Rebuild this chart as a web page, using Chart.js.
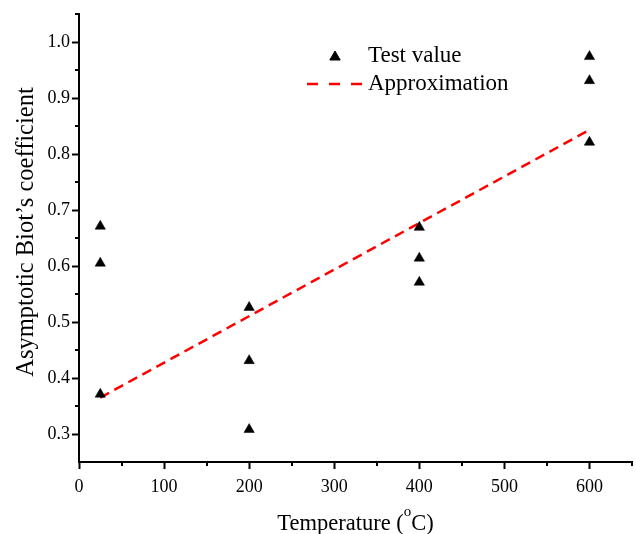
<!DOCTYPE html>
<html>
<head>
<meta charset="utf-8">
<script src="https://cdn.jsdelivr.net/npm/chart.js@4.4.1/dist/chart.umd.min.js"></script>
<style>
  html, body { margin: 0; padding: 0; background: #fff; }
</style>
</head>
<body>
<canvas id="biot-chart" width="636" height="534"></canvas>
<script>
// measured points (temperature, coefficient)
const testX = [25, 25, 25, 200, 200, 200, 400, 400, 400, 600, 600, 600];
const testY = [0.671, 0.605, 0.371, 0.526, 0.431, 0.308, 0.669, 0.614, 0.571, 0.974, 0.931, 0.821];

// fitted line end points
const approxX = [25, 600];
const approxY = [0.365, 0.843];

const xTicks = [0, 100, 200, 300, 400, 500, 600];
const xMinor = [50, 150, 250, 350, 450, 550, 650];
const yTicks = [0.3, 0.4, 0.5, 0.6, 0.7, 0.8, 0.9, 1.0];
const yMinor = [0.35, 0.45, 0.55, 0.65, 0.75, 0.85, 0.95, 1.05];

const FONT = "'Liberation Serif', 'Times New Roman', serif";
Chart.defaults.font.family = FONT;
Chart.defaults.color = "#000";

const minorTicks = {
  id: "minorTicks",
  afterDraw(chart) {
    const ctx = chart.ctx;
    const { x, y } = chart.scales;
    const area = chart.chartArea;
    ctx.save();
    ctx.strokeStyle = "#000";
    ctx.lineWidth = 2;
    ctx.beginPath();
    xMinor.forEach(v => {
      const px = Math.round(x.getPixelForValue(v));
      ctx.moveTo(px, area.bottom);
      ctx.lineTo(px, area.bottom + 4);
    });
    yMinor.forEach(v => {
      const py = Math.round(y.getPixelForValue(v));
      ctx.moveTo(area.left - 4, py);
      ctx.lineTo(area.left, py);
    });
    ctx.stroke();
    ctx.restore();
  }
};

const titlesAndLegend = {
  id: "titlesAndLegend",
  afterDraw(chart) {
    const ctx = chart.ctx;
    const area = chart.chartArea;
    ctx.save();
    ctx.fillStyle = "#000";

    // y title
    ctx.save();
    ctx.translate(33, 232);
    ctx.rotate(-Math.PI / 2);
    ctx.font = "24.5px " + FONT;
    ctx.textAlign = "center";
    ctx.textBaseline = "alphabetic";
    ctx.fillText("Asymptotic Biot\u2019s coefficient", 0, 0);
    ctx.restore();

    // x title with superscript o
    const main = "22.5px " + FONT;
    const sup = "15px " + FONT;
    ctx.textBaseline = "alphabetic";
    ctx.textAlign = "left";
    ctx.font = main;
    const w1 = ctx.measureText("Temperature (").width;
    const w3 = ctx.measureText("C)").width;
    ctx.font = sup;
    const w2 = ctx.measureText("o").width;
    const total = w1 + w2 + w3;
    let tx = (area.left + area.right) / 2 - total / 2;
    const by = 530;
    ctx.font = main;
    ctx.fillText("Temperature (", tx, by);
    ctx.font = sup;
    ctx.fillText("o", tx + w1, by - 14);
    ctx.font = main;
    ctx.fillText("C)", tx + w1 + w2, by);

    // legend
    ctx.fillStyle = "#000";
    ctx.strokeStyle = "#000";
    Chart.helpers.drawPoint(ctx, { pointStyle: "triangle", radius: 6, rotation: 0, borderWidth: 0.5 }, 335, 57);
    ctx.strokeStyle = "#ff0000";
    ctx.lineWidth = 2.5;
    ctx.setLineDash([11, 11]);
    ctx.beginPath();
    ctx.moveTo(307, 84);
    ctx.lineTo(362, 84);
    ctx.stroke();
    ctx.setLineDash([]);
    ctx.fillStyle = "#000";
    ctx.font = "23px " + FONT;
    ctx.fillText("Test value", 368, 62);
    ctx.fillText("Approximation", 368, 90);
    ctx.restore();
  }
};

new Chart(document.getElementById("biot-chart"), {
  type: "scatter",
  data: {
    datasets: [
      {
        label: "Test value",
        data: testX.map((x, i) => ({ x: x, y: testY[i] })),
        pointStyle: "triangle",
        pointRadius: 6,
        backgroundColor: "#000",
        borderColor: "#000",
        borderWidth: 0.5,
        showLine: false
      },
      {
        label: "Approximation",
        type: "line",
        data: approxX.map((x, i) => ({ x: x, y: approxY[i] })),
        borderColor: "#ff0000",
        borderWidth: 2.5,
        borderDash: [10, 6],
        pointRadius: 0,
        fill: false
      }
    ]
  },
  options: {
    responsive: false,
    animation: false,
    layout: { autoPadding: false, padding: { top: 14, right: 4, left: 0, bottom: 0 } },
    plugins: { legend: { display: false }, tooltip: { enabled: false } },
    scales: {
      x: {
        type: "linear",
        min: 0,
        max: 650,
        afterBuildTicks: s => { s.ticks = xTicks.map(v => ({ value: v })); },
        afterFit: s => { s.height = 72; },
        ticks: { font: { size: 18 }, color: "#000", padding: 7, maxRotation: 0, autoSkip: false },
        grid: { drawOnChartArea: false, tickLength: 7, tickWidth: 2, tickColor: "#000" },
        border: { display: true, color: "#000", width: 2 }
      },
      y: {
        type: "linear",
        min: 0.25,
        max: 1.05,
        afterBuildTicks: s => { s.ticks = yTicks.map(v => ({ value: v })); },
        afterFit: s => { s.width = 79; },
        ticks: { font: { size: 18 }, color: "#000", padding: 2, callback: v => v.toFixed(1) },
        grid: { drawOnChartArea: false, tickLength: 7, tickWidth: 2, tickColor: "#000" },
        border: { display: true, color: "#000", width: 2 }
      }
    }
  },
  plugins: [minorTicks, titlesAndLegend]
});
</script>
</body>
</html>
